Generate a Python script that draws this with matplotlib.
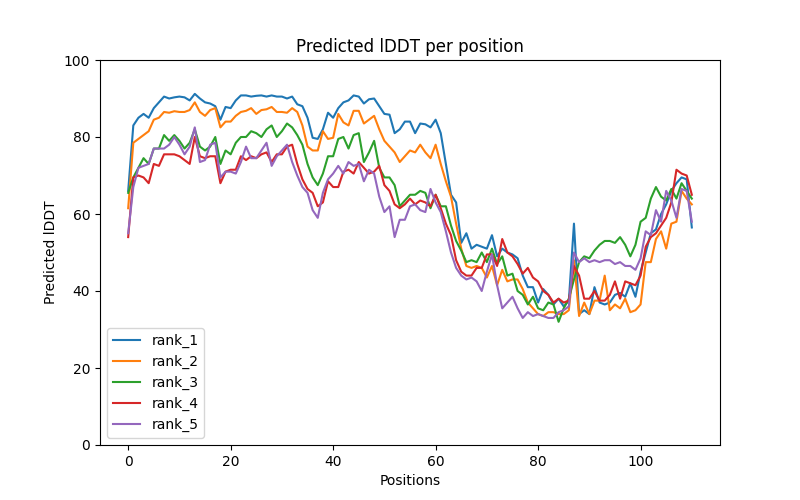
import matplotlib
matplotlib.use("Agg")
import matplotlib.pyplot as plt
import numpy as np

rank_1 = [66, 83, 85, 86, 85, 87.5, 89, 90.5, 90, 90.3,
          90.5, 90.3, 89.5, 91.2, 90, 89, 88.7, 88, 84.5, 87.8,
          87.5, 89.5, 90.8, 90.8, 90.5, 90.7, 90.8, 90.5, 90.8, 90.5,
          90.5, 90, 90.5, 88.5, 88, 85, 79.8, 79.5, 82, 86.3,
          85, 87.5, 89, 89.5, 90.8, 90.5, 88.7, 89.8, 90, 88,
          86, 85.8, 81, 82, 84, 84, 81, 83.5, 83.3, 82.5,
          84.5, 81, 73, 65, 63, 52.5, 55, 51, 52, 51.5,
          51, 54.5, 49, 51, 50, 49.5, 48.5, 44, 41, 41,
          37, 40.5, 39, 36.5, 38, 36, 37.5, 57.5, 34, 35,
          34, 41, 37, 36.5, 37, 39, 39.5, 38.5, 42, 38.5,
          45, 50, 55, 56, 60, 62.5, 66, 68, 69.5, 69, 56.5]
rank_2 = [61.5, 78.5, 79.5, 80.5, 81.5, 84.5, 85, 86.5, 86.3, 86.7,
          86.5, 86.5, 87, 89, 86.5, 85.5, 87, 87.5, 82.5, 84,
          84, 85.5, 86.5, 86.8, 87.5, 86, 87, 87.2, 87.8, 86.5,
          86.5, 86.3, 87.5, 86.5, 83, 77.5, 76.5, 76.5, 81.5, 79.5,
          79.8, 86, 83.8, 83, 86.8, 86.8, 83.5, 84.5, 85.5, 82,
          79, 77.5, 76, 73.5, 75, 76.5, 76, 78, 76, 74.5,
          78, 73, 68.5, 64.5, 57.5, 51, 46.5, 46, 46.5, 46,
          43.5, 46.5, 41.5, 45.5, 42.5, 43, 43, 40.5, 37, 35.5,
          34, 33.5, 34.5, 34.5, 34, 34, 35, 48, 33.5, 37,
          34, 37.5, 37.5, 44, 35, 36.5, 35.5, 38, 34.5, 35,
          36.5, 47.5, 47.5, 53.5, 55.5, 51, 57.5, 58, 66, 64, 62.5]
rank_3 = [65.5, 69.5, 72, 74.5, 73, 77, 77, 80.5, 79, 80.5,
          79, 77, 78.5, 82, 77.5, 76.5, 77.5, 80, 73, 76.5,
          75.5, 78.5, 80, 80, 81.5, 81, 80, 82, 83, 80,
          81.5, 83.5, 82.5, 80.5, 78, 73, 69.5, 67.5, 70.5, 75,
          75, 79.5, 80, 77, 80.5, 81, 73.5, 76, 79, 72,
          69.5, 69.5, 67.5, 62, 63.5, 65, 65, 66, 65.5, 61.5,
          65, 62, 62, 57, 53, 50.5, 47.5, 48, 47.5, 50,
          47.5, 51, 47, 49, 44, 44.5, 40, 39, 36.5, 38.5,
          35.5, 35, 37, 36.5, 32, 35.5, 38, 43, 47.5, 49,
          48.5, 50.5, 52, 53, 53, 52.5, 54, 52, 49, 52,
          58, 59, 64, 67, 64.5, 63.5, 66.5, 64, 68, 66, 64]
rank_4 = [54, 69.5, 70, 69.5, 68, 73, 72.5, 75.5, 75.5, 75.5,
          75, 74, 73, 80, 75, 74.5, 75, 75, 68, 71,
          71.5, 71.5, 75, 74, 75, 74.5, 75.5, 76, 73.5, 75.5,
          75.5, 77.5, 78, 73, 69, 66.5, 65.5, 62, 63, 68.5,
          67, 67, 71, 71.5, 70.5, 73.5, 72, 70.5, 71, 72.5,
          67.5, 66, 62.5, 61.5, 62.5, 64, 62.5, 63.5, 63, 62,
          65, 61.5, 57.5, 54.5, 48, 45, 44, 44, 46, 46,
          49.5, 49.5, 46.5, 53.5, 50, 49, 47, 44.5, 46, 43.5,
          42.5, 40, 39, 37, 38, 37, 37.5, 46.5, 44, 38,
          38, 40, 37.5, 37.5, 39, 42.5, 38, 42.5, 42, 41.5,
          44, 51.5, 54, 55, 57, 59, 63, 71.5, 70.5, 70, 65]
rank_5 = [55, 67, 72, 72.5, 73, 77, 77, 77, 78, 80,
          78, 75.5, 77.5, 82.5, 73.5, 74, 78, 78.5, 69.5, 71,
          71, 70.5, 73.5, 77.5, 74.5, 74.5, 76.5, 78.5, 72.5, 75,
          76.5, 78, 73.5, 70, 67, 65.5, 61, 59, 65.5, 69,
          70.5, 72.5, 70.5, 73.5, 72.5, 73, 68.5, 71.5, 70.5, 64.5,
          60.5, 62, 54, 58.5, 58.5, 62, 62.5, 61, 60.5, 66.5,
          63, 60.5, 55.5, 50, 46, 44, 43, 43.5, 42.5, 40,
          45, 49.5, 41.5, 35.5, 37, 38.5, 35.5, 33, 34.5, 33.5,
          34, 33.5, 33, 33, 34.5, 35, 36, 50, 47.5, 48.5,
          47.5, 48, 47.5, 48, 48, 47, 47.5, 46.5, 46.5, 45.5,
          48.5, 55.5, 54.5, 61, 58, 66, 63.5, 59, 66.5, 66, 58]

series = {"rank_1": rank_1, "rank_2": rank_2, "rank_3": rank_3,
          "rank_4": rank_4, "rank_5": rank_5}

fig, ax = plt.subplots(figsize=(8, 5), dpi=100)
for name, vals in series.items():
    ax.plot(np.arange(len(vals)), vals, label=name)
ax.set_title("Predicted lDDT per position")
ax.set_xlabel("Positions")
ax.set_ylabel("Predicted lDDT")
ax.set_ylim(0, 100)
ax.legend(loc="lower left")
fig.savefig("out.png", dpi=100)
